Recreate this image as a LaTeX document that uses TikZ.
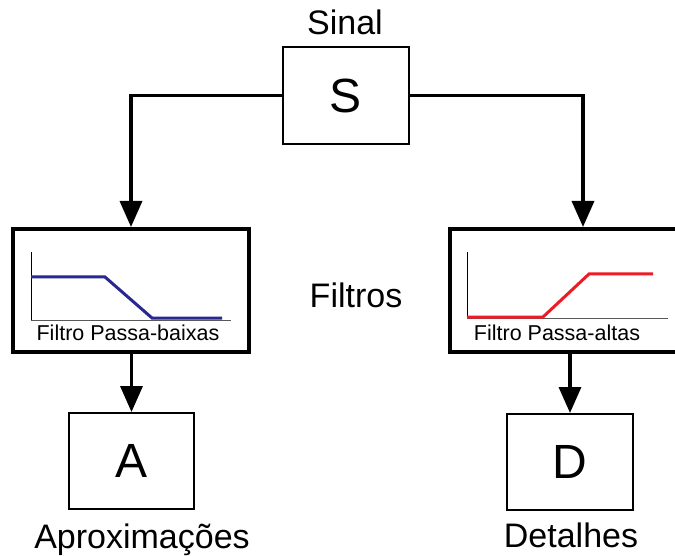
\documentclass[tikz,border=0pt]{standalone}
\usepackage{fontspec}
\setmainfont{Liberation Sans}
\usetikzlibrary{arrows.meta}
\definecolor{azul}{RGB}{40,40,145}
\definecolor{vermelho}{RGB}{237,28,36}

\begin{document}
\begin{tikzpicture}
            [x=1pt, y=-1pt, line width=3.5pt,
             caixa/.style={draw, line width=2pt, inner sep=0pt, font=\fontsize{48}{50}\selectfont},
             filtro/.style={draw, line width=4pt, inner sep=0pt, minimum height=123pt},
             rotulo/.style={anchor=base, inner sep=0pt, font=\fontsize{34}{36}\selectfont},
             legenda/.style={anchor=base, inner sep=0pt, font=\fontsize{21.5}{24}\selectfont},
             seta/.style={-{Triangle[width=22pt, length=26pt]}}]
            \useasboundingbox (0, 0) rectangle (675, 556);
            \node [caixa, minimum width=126pt, minimum height=97pt] (S) at (346, 95.5) {S};
            \node [rotulo] (sinal) at (345, 35) {Sinal};
            \node [filtro, minimum width=236pt] (LP) at (131, 290.5) {};
            \node [filtro, minimum width=266pt] (HP) at (583, 290.5) {};
            \node [rotulo] (filtros) at (356, 307) {Filtros};
            \node [caixa, minimum width=125pt, minimum height=96pt] (A) at (131.5, 461) {A};
            \node [caixa, minimum width=126pt, minimum height=96pt] (D) at (570, 462) {D};
            \node [rotulo] (aprox) at (142, 548) {Aproximações};
            \node [rotulo] (detalhes) at (571, 547) {Detalhes};
            % passa-baixas
            \draw [line width=1pt, gray!70!black] (31, 320) -- (231, 320);
            \draw [line width=1pt] (31, 252) -- (31, 320);
            \draw [line width=3pt, azul] (31, 277) -- (105, 277) -- (152, 318) -- (222, 318);
            \node [legenda] (lpnome) at (128, 340) {Filtro Passa-baixas};
            % passa-altas
            \draw [line width=1pt, gray!70!black] (467, 318) -- (668, 318);
            \draw [line width=1pt] (467, 252) -- (467, 318);
            \draw [line width=3pt, vermelho] (467, 317) -- (543, 317) -- (589, 274) -- (653, 274);
            \node [legenda] (hpnome) at (557, 340) {Filtro Passa-altas};
            % conexoes
            \draw [seta] (S.west) -| (LP.north);
            \draw [seta] (S.east) -| (HP.north);
            \draw [seta] (LP.south -| A.north) -- (A.north);
            \draw [seta] (HP.south -| D.north) -- (D.north);
\end{tikzpicture}
\end{document}
